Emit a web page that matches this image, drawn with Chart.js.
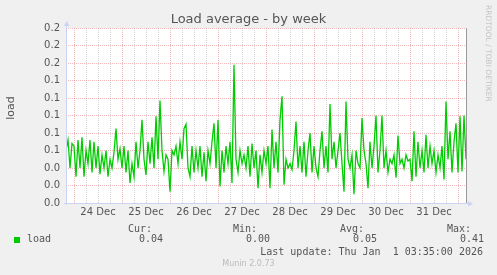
<!DOCTYPE html>
<html><head><meta charset="utf-8">
<script src="https://cdn.jsdelivr.net/npm/chart.js@4/dist/chart.umd.min.js"></script>
<style>
html,body{margin:0;padding:0;background:#f0f0f0;}
body{width:497px;height:275px;position:relative;overflow:hidden;font-family:"DejaVu Sans",sans-serif;}
#wrap{position:absolute;left:0;top:0;width:497px;height:275px;}
.t{position:absolute;white-space:pre;}
.m{font-family:"DejaVu Sans Mono",monospace;font-size:10px;color:#555;line-height:12px;}
</style></head><body>
<div id="wrap"><canvas id="c" width="497" height="275"></canvas></div>
<div class="t" id="title" style="left:0;width:497px;text-align:center;top:11px;font-size:13px;line-height:15px;color:#555;">Load average - by week</div>
<div class="t" id="ytitle" style="left:10px;top:108px;font-size:11px;line-height:13px;color:#555;transform:translate(-50%,-50%) rotate(-90deg);">load</div>
<div class="t" id="wm" style="left:484px;top:5px;font-size:7.5px;line-height:8px;color:#c4c4c4;writing-mode:vertical-rl;">RRDTOOL / TOBI OETIKER</div>
<div id="legend"></div>
<div class="t" style="left:0;width:497px;text-align:center;top:259px;font-size:8px;line-height:10px;color:#bbb;">Munin 2.0.73</div>
<script>
// ---- data ----
const startHour = -4; // hours relative to 24 Dec 00:00, one value per hour
const load = [
 0.06,0.072,0.04,0.068,
 0.065,0.03,0.072,0.04,0.075,0.03,0.06,0.045,0.072,0.035,0.07,0.04,0.065,0.033,0.055,0.04,0.06,0.03,0.05,0.04,0.058,0.085,0.05,0.062,
 0.04,0.065,0.035,0.06,0.023,0.045,0.03,0.07,0.04,0.06,0.095,0.05,0.032,0.07,0.045,0.075,0.04,0.099,0.05,0.117,0.06,0.036,0.055,0.05,0.013,
 0.06,0.055,0.065,0.045,0.07,0.05,0.085,0.09,0.04,0.03,0.065,0.035,0.06,0.04,0.065,0.03,0.058,0.025,0.06,0.045,0.07,0.091,0.04,0.095,
 0.019,0.06,0.035,0.065,0.045,0.07,0.023,0.158,0.05,0.035,0.06,0.045,0.055,0.04,0.065,0.03,0.068,0.04,0.06,0.017,0.055,0.035,0.06,0.045,
 0.065,0.017,0.084,0.04,0.07,0.035,0.095,0.122,0.021,0.05,0.04,0.045,0.038,0.06,0.093,0.04,0.065,0.035,0.07,0.03,0.06,0.08,0.035,0.065,
 0.04,0.03,0.06,0.082,0.04,0.065,0.035,0.113,0.05,0.07,0.04,0.06,0.08,0.045,0.013,0.116,0.05,0.04,0.055,0.01,0.06,0.045,0.04,0.097,
 0.06,0.045,0.017,0.07,0.04,0.065,0.10,0.035,0.06,0.10,0.04,0.06,0.035,0.05,0.045,0.055,0.029,0.077,0.045,0.05,0.04,0.055,0.048,0.05,
 0.025,0.082,0.03,0.07,0.04,0.06,0.035,0.078,0.04,0.065,0.045,0.06,0.035,0.055,0.04,0.065,0.027,0.116,0.05,0.082,0.035,0.07,0.091,0.035,
 0.099,0.036,0.10,0.05
];
const dayLabels = ['24 Dec','25 Dec','26 Dec','27 Dec','28 Dec','29 Dec','30 Dec','31 Dec'];
const yTickLabels = ['0.0','0.0','0.0','0.1','0.1','0.1','0.1','0.1','0.2','0.2','0.2'];
const seriesName = 'load';
const statNames = ['Cur:','Min:','Avg:','Max:'];
const statValues = ['0.04','0.00','0.05','0.41'];
const lastUpdate = 'Last update: Thu Jan  1 03:35:00 2026';

// ---- legend (HTML text) ----
(function(){
  const L = document.getElementById('legend');
  const hdrLeft = [128,233,340,447];
  const valLeft = [139,246,353,460];
  let h = '<div style="position:absolute;left:14px;top:237px;width:6px;height:6px;background:#00cc00"></div>';
  h += '<div class="t m" style="left:27px;top:233px">'+seriesName+'</div>';
  statNames.forEach((n,i)=>{
    h += '<div class="t m" style="left:'+hdrLeft[i]+'px;top:223px">'+n+'</div>';
    h += '<div class="t m" style="left:'+valLeft[i]+'px;top:233px">'+statValues[i]+'</div>';
  });
  h += '<div class="t m" style="right:14px;top:246px">'+lastUpdate+'</div>';
  L.innerHTML = h;
})();

const points = load.map((v,i)=>({x:startHour+i, y:v}));
const MAJOR = 'rgba(225,110,110,0.48)';
const MINOR = '#d4d4d4';

const deco = {
  id:'deco',
  beforeDraw(chart){
    const {ctx, chartArea:a} = chart;
    ctx.save(); ctx.fillStyle='#ffffff';
    ctx.fillRect(a.left,a.top,a.right-a.left,a.bottom-a.top);
    ctx.restore();
  },
  afterDraw(chart){
    const {ctx, chartArea:a} = chart;
    ctx.save();
    ctx.strokeStyle='#999999'; ctx.lineWidth=1;
    ctx.beginPath(); ctx.moveTo(a.right+0.5,a.top); ctx.lineTo(a.right+0.5,a.bottom); ctx.stroke();
    ctx.strokeStyle='#ccd2f2';
    ctx.beginPath(); ctx.moveTo(a.left+0.5,a.top-4); ctx.lineTo(a.left+0.5,a.bottom+2); ctx.stroke();
    ctx.beginPath(); ctx.moveTo(a.left-2,a.bottom+0.5); ctx.lineTo(a.right+3,a.bottom+0.5); ctx.stroke();
    ctx.fillStyle='#ccd2f2';
    ctx.beginPath(); ctx.moveTo(a.left-2,a.top-2); ctx.lineTo(a.left+3.5,a.top-2); ctx.lineTo(a.left+0.75,a.top-7); ctx.closePath(); ctx.fill();
    ctx.beginPath(); ctx.moveTo(a.right+2,a.bottom-2); ctx.lineTo(a.right+2,a.bottom+3.5); ctx.lineTo(a.right+7,a.bottom+0.75); ctx.closePath(); ctx.fill();
    ctx.restore();
  }
};

new Chart(document.getElementById('c'), {
  type:'line',
  data:{datasets:[{label:seriesName,data:points,borderColor:'#00cc00',borderWidth:1.3,pointRadius:0,tension:0,fill:false}]},
  options:{
    responsive:false, animation:false, devicePixelRatio:1,
    layout:{padding:{left:0,right:31,top:28,bottom:0}},
    plugins:{legend:{display:false},tooltip:{enabled:false},title:{display:false}},
    scales:{
      x:{type:'linear',min:startHour,max:startHour+load.length-1,
        afterFit(s){s.height=72;},
        afterBuildTicks(s){const t=[];for(let h=0;h<=192;h+=6)t.push({value:h});s.ticks=t;},
        grid:{drawTicks:false,lineWidth:1,color(c){const v=c.tick&&c.tick.value;return (v%24===0)?MAJOR:MINOR;}},
        border:{display:false,dash:[1,1]},
        ticks:{autoSkip:false,maxRotation:0,minRotation:0,padding:3,color:'#555',font:{family:'DejaVu Sans',size:10},
          callback(v){return (v%24===12)?dayLabels[(v-12)/24]:'';}}
      },
      y:{min:0,max:0.2,
        afterFit(s){s.width=66;},
        afterBuildTicks(s){const t=[];for(let i=0;i<=20;i++)t.push({value:i/100});s.ticks=t;},
        grid:{drawTicks:false,lineWidth:1,color(c){const i=Math.round((c.tick?c.tick.value:0)*100);return (i%2===0)?MAJOR:MINOR;}},
        border:{display:false,dash:[1,1]},
        ticks:{padding:6,color:'#555',font:{family:'DejaVu Sans',size:10},
          callback(v){const i=Math.round(v*100);return (i%2===0)?yTickLabels[i/2]:'';}}
      }
    }
  },
  plugins:[deco]
});
</script>
</body></html>
